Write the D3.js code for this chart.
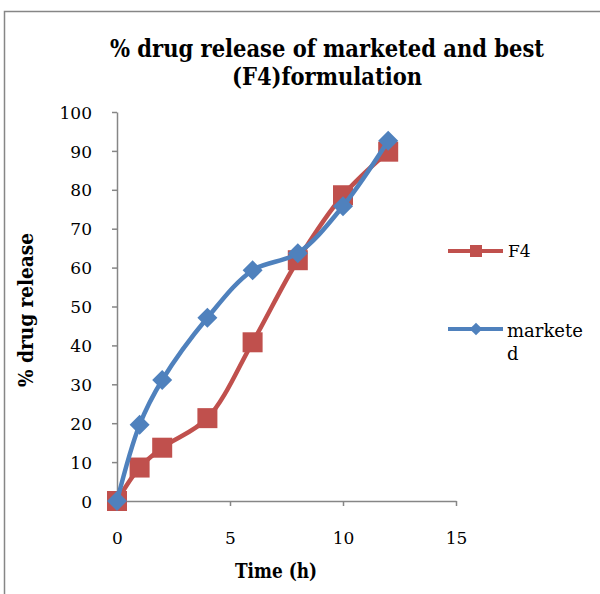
<!DOCTYPE html>
<html>
<head>
<meta charset="utf-8">
<script src="https://cdn.jsdelivr.net/npm/d3@7"></script>
<style>
  body { margin: 0; background: #fff; }
</style>
</head>
<body>
<div id="chart"></div>
<script>
const hours = [0, 1, 2, 4, 6, 8, 10, 12];
const f4 = [0, 8.6, 13.7, 21.3, 40.8, 61.9, 78.6, 89.8];
const marketed = [0, 19.6, 31.1, 47.1, 59.3, 63.7, 75.8, 92.6];
const xTicks = [0, 5, 10, 15];
const yTicks = [0, 10, 20, 30, 40, 50, 60, 70, 80, 90, 100];

const W = 600, H = 594;
const red = '#C0504D', blue = '#4F81BD', axisGrey = '#868686';
const serif = '"DejaVu Serif", "Liberation Serif", serif';
const serifBold = '"DejaVu Serif Condensed", "DejaVu Serif", serif';

const svg = d3.select('#chart').append('svg')
  .attr('width', W)
  .attr('height', H)
  .attr('font-family', serif);

// shrink/grow a text so its width matches the picture
function fitWidth(sel, target) {
  const w = sel.node().getComputedTextLength();
  const fs = +sel.attr('font-size');
  sel.attr('font-size', fs * target / w);
}

// chart border (chart runs past the right and bottom edges)
svg.append('rect')
  .attr('x', 4.5).attr('y', 11.5)
  .attr('width', 620).attr('height', 620)
  .attr('fill', 'none')
  .attr('stroke', axisGrey)
  .attr('stroke-width', 1.5);

const x = d3.scaleLinear().domain([0, 15]).range([117, 456]);
const y = d3.scaleLinear().domain([0, 100]).range([501, 112]);

// title
const t1 = svg.append('text')
  .attr('transform', 'translate(327,57) scale(1,1.05)')
  .attr('text-anchor', 'middle')
  .attr('font-family', serifBold)
  .attr('font-size', 22).attr('font-weight', 'bold')
  .text('% drug release of marketed and  best');
fitWidth(t1, 434);
svg.append('text')
  .attr('transform', 'translate(327,85) scale(1,1.05)')
  .attr('text-anchor', 'middle')
  .attr('font-family', serifBold)
  .attr('font-size', +t1.attr('font-size')).attr('font-weight', 'bold')
  .text('(F4)formulation');

// axes
const yAxis = svg.append('g')
  .attr('transform', 'translate(117,0)')
  .call(d3.axisLeft(y).tickValues(yTicks).tickSize(5).tickPadding(20).tickSizeOuter(0));
const xAxis = svg.append('g')
  .attr('transform', 'translate(0,501)')
  .call(d3.axisBottom(x).tickValues(xTicks).tickSize(5).tickPadding(26).tickSizeOuter(0));
[xAxis, yAxis].forEach(a => {
  a.attr('font-family', serif).attr('font-size', 17);
  a.selectAll('path, line').attr('stroke', axisGrey).attr('stroke-width', 1.5);
  a.selectAll('text').attr('fill', '#000');
});
yAxis.selectAll('text').attr('dy', '0.36em');

// axis titles
const xt = svg.append('text')
  .attr('transform', 'translate(276,578) scale(1,1.1)')
  .attr('text-anchor', 'middle')
  .attr('font-family', serifBold)
  .attr('font-size', 17).attr('font-weight', 'bold')
  .text('Time (h)');
fitWidth(xt, 82);
const yt = svg.append('text')
  .attr('transform', 'translate(33,310) rotate(-90)')
  .attr('text-anchor', 'middle')
  .attr('font-family', serifBold)
  .attr('font-size', 17).attr('font-weight', 'bold')
  .text('% drug release');
fitWidth(yt, 154);

const line = d3.line()
  .x(d => x(d[0]))
  .y(d => y(d[1]))
  .curve(d3.curveCatmullRom.alpha(0.5));

const f4Pts = hours.map((h, i) => [h, f4[i]]);
const mkPts = hours.map((h, i) => [h, marketed[i]]);

// F4 series
svg.append('path')
  .datum(f4Pts)
  .attr('d', line)
  .attr('fill', 'none')
  .attr('stroke', red)
  .attr('stroke-width', 4.5);
svg.selectAll('.sq')
  .data(f4Pts)
  .enter().append('rect')
  .attr('x', d => x(d[0]) - 10)
  .attr('y', d => y(d[1]) - 10)
  .attr('width', 20).attr('height', 20)
  .attr('fill', red);

// marketed series
svg.append('path')
  .datum(mkPts)
  .attr('d', line)
  .attr('fill', 'none')
  .attr('stroke', blue)
  .attr('stroke-width', 4.5);
svg.selectAll('.dm')
  .data(mkPts)
  .enter().append('path')
  .attr('transform', d => `translate(${x(d[0])},${y(d[1])}) rotate(45)`)
  .attr('d', d3.symbol().type(d3.symbolSquare).size(200))
  .attr('fill', blue);

// legend
const lg = svg.append('g');
lg.append('line')
  .attr('x1', 448).attr('x2', 503).attr('y1', 251).attr('y2', 251)
  .attr('stroke', red).attr('stroke-width', 4);
lg.append('rect')
  .attr('x', 470).attr('y', 245).attr('width', 12).attr('height', 12)
  .attr('fill', red);
lg.append('text')
  .attr('x', 508).attr('y', 257)
  .attr('font-size', 17)
  .text('F4');
lg.append('line')
  .attr('x1', 448).attr('x2', 503).attr('y1', 329).attr('y2', 329)
  .attr('stroke', blue).attr('stroke-width', 4);
lg.append('path')
  .attr('transform', 'translate(476,329) rotate(45)')
  .attr('d', d3.symbol().type(d3.symbolSquare).size(80))
  .attr('fill', blue);
const mk = lg.append('text')
  .attr('x', 507).attr('y', 337)
  .attr('font-size', 17)
  .text('markete');
fitWidth(mk, 76);
lg.append('text')
  .attr('x', 507).attr('y', 360)
  .attr('font-size', +mk.attr('font-size'))
  .text('d');
</script>
</body>
</html>
